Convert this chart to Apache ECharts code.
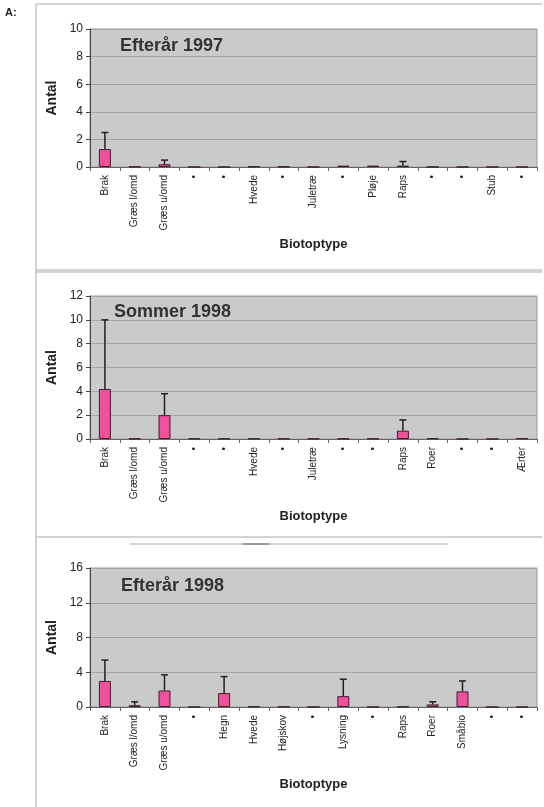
<!DOCTYPE html>
<html>
<head>
<meta charset="utf-8">
<script src="https://cdn.jsdelivr.net/npm/echarts@6/dist/echarts.min.js"></script>
<style>
html,body{margin:0;padding:0;background:#fff;}
#c{width:544px;height:807px;}
</style>
</head>
<body>
<div id="c"></div>
<script>
// ---- data ----
const titles = ['Efterår 1997', 'Sommer 1998', 'Efterår 1998'];
const cats1 = ['Brak','Græs l/omd','Græs u/omd','•','•','Hvede','•','Juletræ','•','Pløje','Raps','•','•','Stub','•'];
const vals1 = [1.3,0.02,0.2,0,0,0.03,0.03,0,0.1,0.1,0.1,0,0,0,0];
const err1  = [2.5,null,0.5,null,null,null,null,null,null,null,0.4,null,null,null,null];

const cats2 = ['Brak','Græs l/omd','Græs u/omd','•','•','Hvede','•','Juletræ','•','•','Raps','Roer','•','•','Ærter'];
const vals2 = [4.2,0.03,2.0,0.03,0.03,0.03,0.03,0.03,0.03,0.03,0.7,0.05,0,0,0.05];
const err2  = [10.0,null,3.8,null,null,null,null,null,null,null,1.6,null,null,null,null];

const cats3 = ['Brak','Græs l/omd','Græs u/omd','•','Hegn','Hvede','Højskov','•','Lysning','•','Raps','Roer','Småbio','•','•'];
const vals3 = [3.0,0.2,1.9,0,1.6,0.06,0.04,0,1.25,0,0.04,0.3,1.8,0,0];
const err3  = [5.4,0.6,3.7,null,3.5,null,null,null,3.2,null,null,0.6,3.0,null,null];

const yMax = [10, 12, 16];
const yInt = [2, 2, 4];

// ---- chart ----
const cats = [cats1, cats2, cats3];
const vals = [vals1, vals2, vals3];
const errs = [err1, err2, err3];
const grids = [
  {left: 90, right: 7, top: 29, height: 138},
  {left: 90, right: 7, top: 296, height: 143},
  {left: 90, right: 7, top: 568, height: 139}
];
const FONT = 'Liberation Sans, Arial, sans-serif';

const option = {
  animation: false,
  title: titles.map((t, i) => ({
    text: t,
    left: [115, 109, 116][i],
    top: [32, 298, 572][i],
    textStyle: {fontFamily: FONT, fontSize: 18, fontWeight: 'bold', color: '#333'}
  })),
  grid: grids.map(g => Object.assign({show: true, backgroundColor: '#cacaca', borderColor: '#9a9a9a', borderWidth: 1}, g)),
  xAxis: cats.map((c, i) => ({
    type: 'category', gridIndex: i, data: c,
    name: 'Biotoptype', nameLocation: 'middle', nameGap: 71,
    nameTextStyle: {fontFamily: FONT, fontSize: 13, fontWeight: 'bold', color: '#222'},
    axisLine: {lineStyle: {color: '#666', width: 1}},
    axisTick: {show: true, length: 4, lineStyle: {color: '#666'}},
    axisLabel: {rotate: 90, interval: 0, margin: 8, fontFamily: FONT, fontSize: 10, color: '#222'},
    splitLine: {show: false}
  })),
  yAxis: cats.map((c, i) => ({
    type: 'value', gridIndex: i, min: 0, max: yMax[i], interval: yInt[i],
    name: 'Antal', nameLocation: 'middle', nameGap: 27, nameRotate: 90,
    nameTextStyle: {fontFamily: FONT, fontSize: 14, fontWeight: 'bold', color: '#222'},
    axisLine: {show: true, lineStyle: {color: '#444', width: 1}},
    axisTick: {show: true, length: 4, lineStyle: {color: '#444'}},
    axisLabel: {margin: 7, fontFamily: FONT, fontSize: 12, color: '#222'},
    splitLine: {show: true, lineStyle: {color: '#a4a4a4', width: 1}}
  })),
  series: []
};

for (let i = 0; i < 3; i++) {
  option.series.push({
    type: 'bar', xAxisIndex: i, yAxisIndex: i, data: vals[i], barWidth: 12,
    itemStyle: {color: '#f0509c', borderColor: '#3a2030', borderWidth: 1}
  });
  const ed = [];
  errs[i].forEach((e, k) => { if (e !== null) ed.push([k, vals[i][k], e]); });
  option.series.push({
    type: 'custom', xAxisIndex: i, yAxisIndex: i, data: ed, z: 5,
    renderItem: function (params, api) {
      const x = api.value(0);
      const lo = api.coord([x, api.value(1)]);
      const hi = api.coord([x, api.value(2)]);
      const cap = 3.5;
      const st = {stroke: '#222', lineWidth: 1.5};
      return {type: 'group', children: [
        {type: 'line', shape: {x1: lo[0], y1: lo[1], x2: hi[0], y2: hi[1]}, style: st},
        {type: 'line', shape: {x1: hi[0] - cap, y1: hi[1], x2: hi[0] + cap, y2: hi[1]}, style: st}
      ]};
    }
  });
}

const frame = {stroke: '#c4c4c4', lineWidth: 1.5};
option.graphic = [
  {type: 'text', left: 5, top: 7, style: {text: 'A:', font: 'bold 11px ' + FONT, fill: '#222'}},
  {type: 'line', shape: {x1: 36, y1: 4, x2: 36, y2: 807}, style: frame},
  {type: 'line', shape: {x1: 36, y1: 4, x2: 542, y2: 4}, style: frame},
  {type: 'line', shape: {x1: 36, y1: 270, x2: 542, y2: 270}, style: frame},
  {type: 'line', shape: {x1: 36, y1: 272, x2: 542, y2: 272}, style: frame},
  {type: 'line', shape: {x1: 36, y1: 537, x2: 542, y2: 537}, style: frame},
  {type: 'line', shape: {x1: 130, y1: 544, x2: 448, y2: 544}, style: frame},
  {type: 'line', shape: {x1: 243, y1: 544, x2: 269, y2: 544}, style: {stroke: '#888', lineWidth: 1.5}}
];

const chart = echarts.init(document.getElementById('c'), null, {renderer: 'canvas'});
chart.setOption(option);
</script>
</body>
</html>
